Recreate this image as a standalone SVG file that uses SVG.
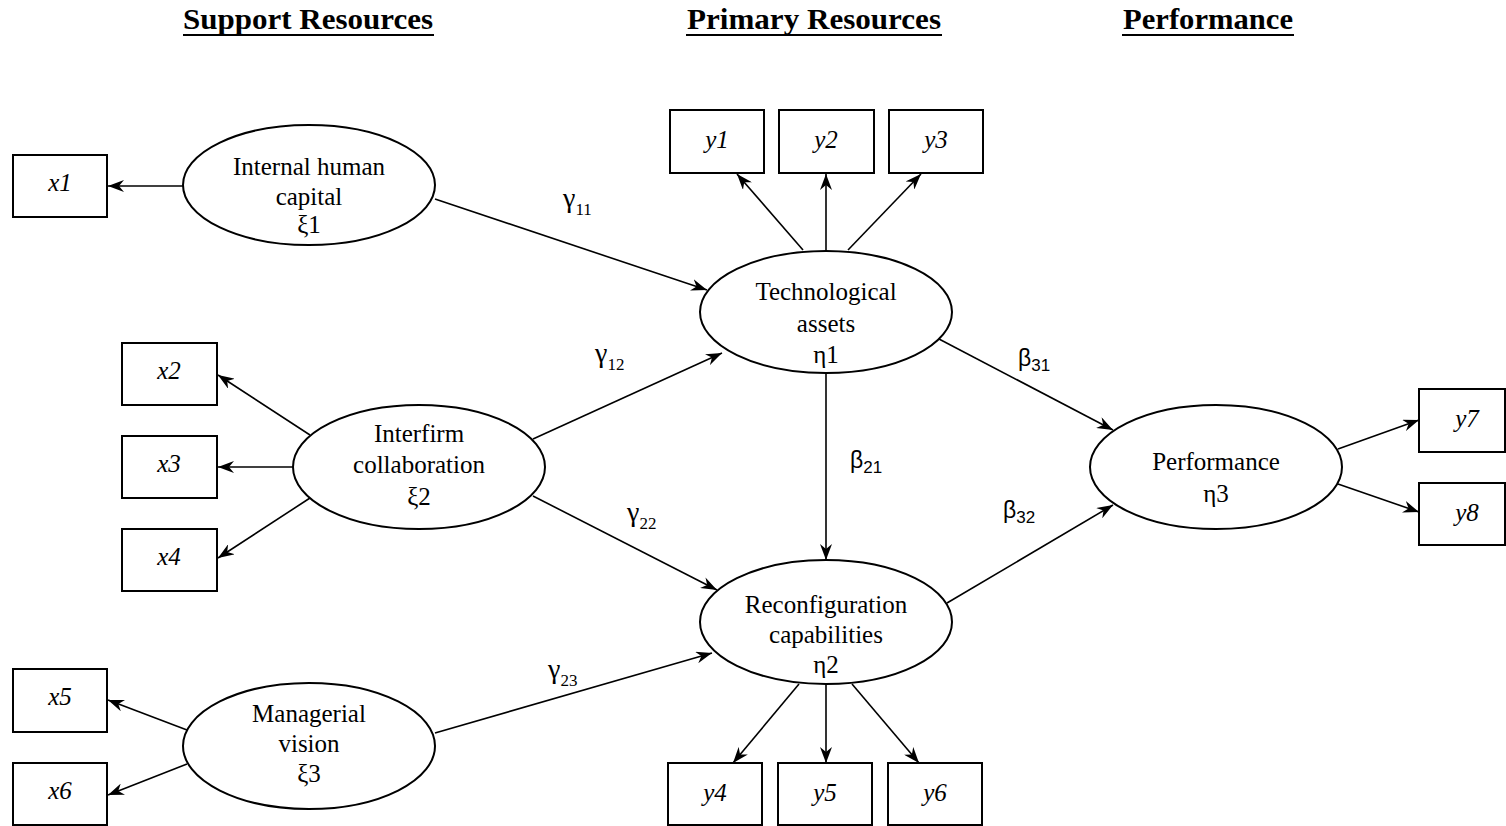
<svg xmlns="http://www.w3.org/2000/svg" width="1506" height="826" viewBox="0 0 1506 826">
<style>
.bg{fill:#fff}
.box{fill:#fff;stroke:#000;stroke-width:2}
.ell{fill:#fff;stroke:#000;stroke-width:2}
.t{font-family:"Liberation Serif","Times New Roman",serif;font-size:25px;fill:#000;text-anchor:middle}
.v{font-family:"Liberation Serif","Times New Roman",serif;font-size:25px;font-style:italic;fill:#000;text-anchor:middle}
.h{font-family:"Liberation Serif","Times New Roman",serif;font-size:30px;font-weight:bold;fill:#000;text-anchor:middle}
.g{font-family:"Liberation Serif","Times New Roman",serif;font-size:28px;fill:#000}
.b{font-family:"Liberation Sans",Arial,sans-serif;font-size:23px;fill:#000}
.sub{font-size:17px}
.ul{stroke:#000;stroke-width:2}
.c line{stroke:#000;stroke-width:1.6;fill:none;marker-end:url(#arr)}
</style>
<defs>
<marker id="arr" viewBox="0 0 16 12" refX="16" refY="6" markerWidth="16" markerHeight="12" orient="auto" markerUnits="userSpaceOnUse">
<path d="M0,0 L16,6 L0,12 L5,6 z" fill="#000"/>
</marker>
</defs>
<rect class="bg" x="0" y="0" width="1506" height="826"/>

<g id="headers">
<text class="h" x="308" y="29" textLength="250" lengthAdjust="spacingAndGlyphs">Support Resources</text>
<line class="ul" x1="183" y1="35" x2="434" y2="35"/>
<text class="h" x="814" y="29" textLength="254" lengthAdjust="spacingAndGlyphs">Primary Resources</text>
<line class="ul" x1="686" y1="35" x2="942" y2="35"/>
<text class="h" x="1208" y="29" textLength="170" lengthAdjust="spacingAndGlyphs">Performance</text>
<line class="ul" x1="1122" y1="35" x2="1294" y2="35"/>
</g>

<g id="connectors" class="c">
<line x1="184" y1="186" x2="108" y2="186"/>
<line x1="435" y1="199" x2="707" y2="290"/>
<line x1="310" y1="435" x2="218" y2="375"/>
<line x1="293" y1="467" x2="218" y2="467"/>
<line x1="310" y1="498" x2="218" y2="558"/>
<line x1="533" y1="439" x2="722" y2="353"/>
<line x1="533" y1="496" x2="717" y2="590"/>
<line x1="187" y1="730" x2="108" y2="700"/>
<line x1="187" y1="764" x2="108" y2="795"/>
<line x1="435" y1="733" x2="712" y2="653"/>
<line x1="803" y1="250" x2="737" y2="174"/>
<line x1="826" y1="250" x2="826" y2="174"/>
<line x1="848" y1="250" x2="921" y2="174"/>
<line x1="826" y1="373" x2="826" y2="560"/>
<line x1="939" y1="339" x2="1113" y2="430"/>
<line x1="947" y1="603" x2="1113" y2="505"/>
<line x1="799" y1="684" x2="733" y2="763"/>
<line x1="826" y1="684" x2="826" y2="763"/>
<line x1="852" y1="684" x2="919" y2="763"/>
<line x1="1338" y1="449" x2="1419" y2="420"/>
<line x1="1338" y1="484" x2="1419" y2="512"/>
</g>

<g id="coef">
<text class="g" x="563" y="207">γ<tspan class="sub" dy="8">11</tspan></text>
<text class="g" x="595" y="362">γ<tspan class="sub" dy="8">12</tspan></text>
<text class="g" x="627" y="521">γ<tspan class="sub" dy="8">22</tspan></text>
<text class="g" x="548" y="678">γ<tspan class="sub" dy="8">23</tspan></text>
<text class="b" x="850" y="468">β<tspan class="sub" dy="5">21</tspan></text>
<text class="b" x="1018" y="366">β<tspan class="sub" dy="5">31</tspan></text>
<text class="b" x="1003" y="518">β<tspan class="sub" dy="5">32</tspan></text>
</g>

<g id="xi1"><ellipse class="ell" cx="309" cy="185" rx="126" ry="60"/>
<text class="t" x="309" y="175">Internal human</text><text class="t" x="309" y="205">capital</text><text class="t" x="309" y="233">ξ1</text></g>
<g id="xi2"><ellipse class="ell" cx="419" cy="467" rx="126" ry="62"/>
<text class="t" x="419" y="442">Interfirm</text><text class="t" x="419" y="473">collaboration</text><text class="t" x="419" y="505">ξ2</text></g>
<g id="xi3"><ellipse class="ell" cx="309" cy="746" rx="126" ry="63"/>
<text class="t" x="309" y="722">Managerial</text><text class="t" x="309" y="752">vision</text><text class="t" x="309" y="782">ξ3</text></g>
<g id="eta1"><ellipse class="ell" cx="826" cy="312" rx="126" ry="61"/>
<text class="t" x="826" y="300">Technological</text><text class="t" x="826" y="332">assets</text><text class="t" x="826" y="363">η1</text></g>
<g id="eta2"><ellipse class="ell" cx="826" cy="622" rx="126" ry="62"/>
<text class="t" x="826" y="613">Reconfiguration</text><text class="t" x="826" y="643">capabilities</text><text class="t" x="826" y="673">η2</text></g>
<g id="eta3"><ellipse class="ell" cx="1216" cy="467" rx="126" ry="62"/>
<text class="t" x="1216" y="470">Performance</text><text class="t" x="1216" y="502">η3</text></g>

<g id="x1"><rect class="box" x="13" y="155" width="94" height="62"/><text class="v" x="60" y="191">x1</text></g>
<g id="x2"><rect class="box" x="122" y="343" width="95" height="62"/><text class="v" x="169" y="379">x2</text></g>
<g id="x3"><rect class="box" x="122" y="436" width="95" height="62"/><text class="v" x="169" y="472">x3</text></g>
<g id="x4"><rect class="box" x="122" y="529" width="95" height="62"/><text class="v" x="169" y="565">x4</text></g>
<g id="x5"><rect class="box" x="13" y="669" width="94" height="63"/><text class="v" x="60" y="705">x5</text></g>
<g id="x6"><rect class="box" x="13" y="763" width="94" height="62"/><text class="v" x="60" y="799">x6</text></g>
<g id="y1"><rect class="box" x="670" y="110" width="94" height="63"/><text class="v" x="717" y="148">y1</text></g>
<g id="y2"><rect class="box" x="779" y="110" width="95" height="63"/><text class="v" x="826" y="148">y2</text></g>
<g id="y3"><rect class="box" x="889" y="110" width="94" height="63"/><text class="v" x="936" y="148">y3</text></g>
<g id="y4"><rect class="box" x="668" y="763" width="94" height="62"/><text class="v" x="715" y="801">y4</text></g>
<g id="y5"><rect class="box" x="778" y="763" width="94" height="62"/><text class="v" x="825" y="801">y5</text></g>
<g id="y6"><rect class="box" x="888" y="763" width="94" height="62"/><text class="v" x="935" y="801">y6</text></g>
<g id="y7"><rect class="box" x="1419" y="389" width="86" height="63"/><text class="v" x="1467" y="427">y7</text></g>
<g id="y8"><rect class="box" x="1419" y="483" width="86" height="62"/><text class="v" x="1467" y="521">y8</text></g>
</svg>
